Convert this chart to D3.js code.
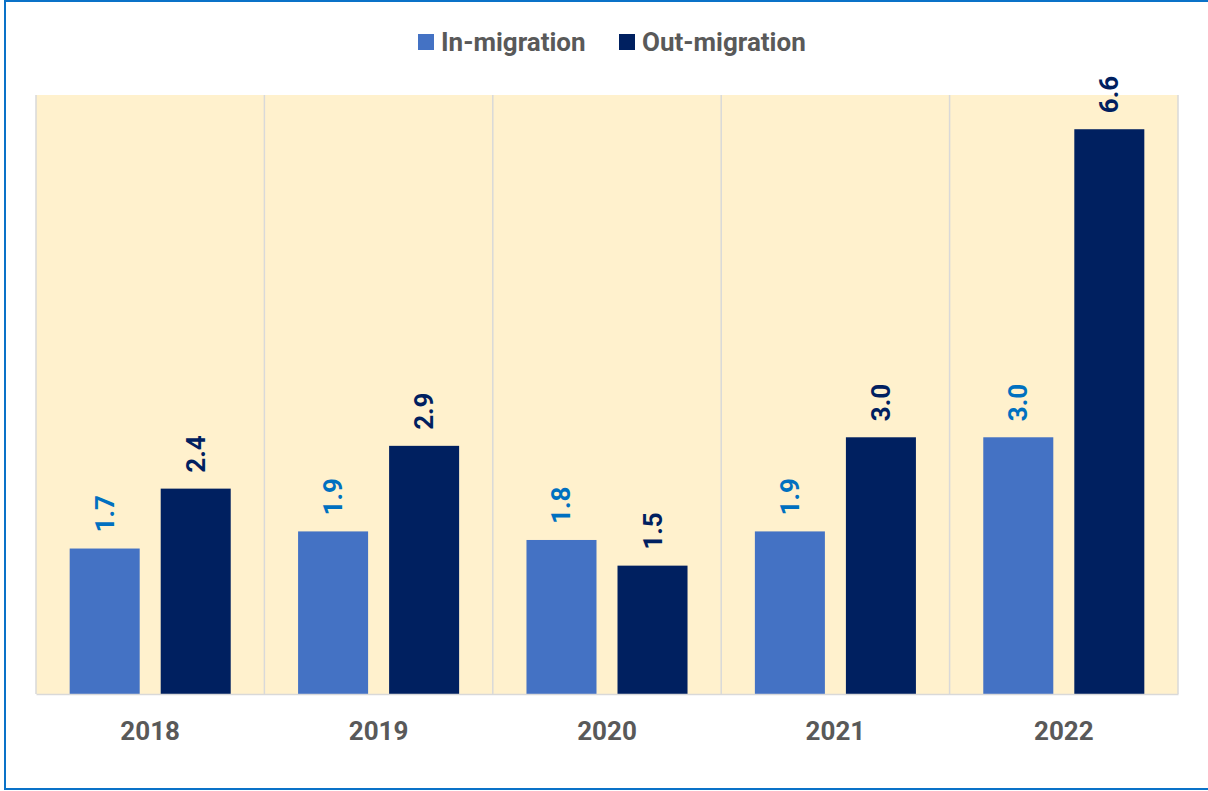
<!DOCTYPE html>
<html><head><meta charset="utf-8">
<script src="https://cdn.jsdelivr.net/npm/d3@7"></script>
<style>body{margin:0;background:#fff;}svg{display:block;}</style>
</head><body><svg id="c" width="1208" height="791"></svg>
<script>
const years = ["2018","2019","2020","2021","2022"];
const seriesNames = ["In-migration","Out-migration"];
const inMigration = [1.7, 1.9, 1.8, 1.9, 3.0];
const outMigration = [2.4, 2.9, 1.5, 3.0, 6.6];
const barColors = ["#4472C4","#002060"];
const labelColors = ["#0070C0","#002060"];

const svg = d3.select("#c");
// outer border
svg.append("rect").attr("x",5).attr("y",1).attr("width",1210).attr("height",788)
  .attr("fill","none").attr("stroke","#0A72C8").attr("stroke-width",2);

const pL=36, pR=1178, pT=95, pB=694;
const x0 = d3.scaleBand().domain(years).range([pL,pR]).padding(0);
const x1 = d3.scaleBand().domain(seriesNames).range([0,x0.bandwidth()]).paddingInner(0.2308).paddingOuter(0.37);
const y = d3.scaleLinear().domain([0,7]).range([pB,pT]);

svg.append("rect").attr("x",pL).attr("y",pT).attr("width",pR-pL).attr("height",pB-pT).attr("fill","#FFF1CD");
// separators
svg.selectAll("line.sep").data(years).enter().append("line")
  .attr("x1",d=>x0(d)).attr("x2",d=>x0(d)).attr("y1",pT).attr("y2",pB)
  .attr("stroke","#D9D9D9").attr("stroke-width",1.5);
svg.append("line").attr("x1",pR).attr("x2",pR).attr("y1",pT).attr("y2",pB).attr("stroke","#D9D9D9").attr("stroke-width",1.5);

const data = years.map((yr,i)=>({year:yr, vals:[inMigration[i], outMigration[i]]}));
const g = svg.selectAll("g.yr").data(data).enter().append("g").attr("transform",d=>`translate(${x0(d.year)},0)`);
g.selectAll("rect").data(d=>d.vals.map((v,j)=>({v,j}))).enter().append("rect")
  .attr("x",d=>x1(seriesNames[d.j])).attr("width",x1.bandwidth())
  .attr("y",d=>y(d.v)).attr("height",d=>pB-y(d.v))
  .attr("fill",d=>barColors[d.j]);
g.selectAll("text").data(d=>d.vals.map((v,j)=>({v,j}))).enter().append("text")
  .attr("transform",d=>`translate(${x1(seriesNames[d.j])+x1.bandwidth()/2+9},${y(d.v)-16}) rotate(-90)`)
  .attr("text-anchor","start")
  .attr("font-family","Roboto, 'DejaVu Sans', sans-serif").attr("font-weight","bold").attr("font-size",26)
  .attr("fill",d=>labelColors[d.j]).text(d=>d.v.toFixed(1));

// x axis
const xAxis = d3.axisBottom(x0).tickSize(0).tickPadding(28);
const ax = svg.append("g").attr("transform",`translate(0,${pB})`).call(xAxis);
ax.select(".domain").attr("stroke","#D9D9D9").attr("stroke-width",1.5);
ax.selectAll("text").attr("font-family","Roboto, sans-serif").attr("font-weight","bold").attr("font-size",26).attr("fill","#595959");

// legend
const legend = svg.append("g");
const items = [{name:seriesNames[0], x:418},{name:seriesNames[1], x:619}];
items.forEach((it,i)=>{
  legend.append("rect").attr("x",it.x).attr("y",34).attr("width",16).attr("height",16).attr("fill",barColors[i]);
  legend.append("text").attr("x",it.x+23).attr("y",51).attr("font-family","Roboto, sans-serif").attr("font-weight","bold")
    .attr("font-size",26).attr("fill","#595959").text(it.name);
});
</script></body></html>
